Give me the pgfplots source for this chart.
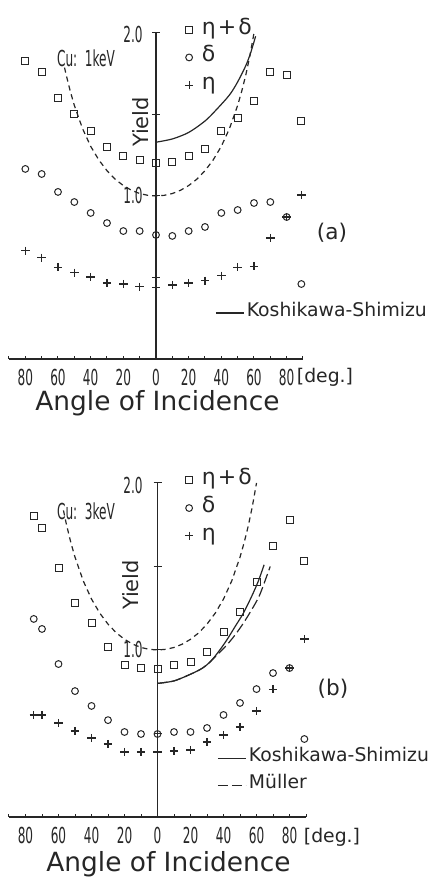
\documentclass[border=0pt]{standalone}
\usepackage{graphicx}
\usepackage{fontspec}
\setmainfont{DejaVu Sans}
\usepackage{pgfplots}
\pgfplotsset{compat=1.18}

% narrow digits and short labels, as on the plotter lettering
\newcommand{\nar}[1]{\scalebox{0.55}[1]{#1}}
\newcommand{\numfont}{\fontsize{11}{13}\selectfont}
\colorlet{ink}{black!85}

\pgfplotsset{
  panel/.style={
    scale only axis, xmin=-90, xmax=90, ymin=0, ymax=2,
    axis x line=bottom, axis y line=none, clip=false,
    x axis line style={-, line width=0.6pt, ink},
    xtick={-80,-60,...,80}, minor xtick={-90,-70,...,90},
    xticklabels={\nar{80},\nar{60},\nar{40},\nar{20},\nar{0},\nar{20},\nar{40},\nar{60},\nar{80}},
    tick align=inside, major tick length=1.6pt, minor tick length=1.6pt,
    every tick/.style={ink, line width=0.5pt},
    xticklabel style={font=\numfont, text=ink, yshift=-1.5pt},
    legend style={draw=none, fill=none, inner sep=0pt, font=\fontsize{11}{13}\selectfont,
      text=ink, row sep=0pt, cells={anchor=west},
      nodes={inner sep=0.8pt, text height=8.4pt, text depth=3.85pt},
      /tikz/every odd column/.append style={column sep=3.5pt}},
    legend image code/.code={\draw[#1] plot coordinates {(0pt,0pt)};},
  },
  keys/.style={
    scale only axis, xmin=-90, xmax=90, ymin=0, ymax=2, hide axis,
    legend style={draw=none, fill=none, inner sep=0pt, font=\fontsize{9.4}{11}\selectfont,
      text=ink, row sep=0pt, cells={anchor=west},
      nodes={inner sep=1.2pt, text height=7pt, text depth=4pt}},
    legend image code/.code={\draw[#1] (0pt,0pt) -- (14pt,0pt);},
  },
  sum/.style={only marks, mark=square, mark size=1.75pt, mark options={ink, line width=0.5pt}},
  sec/.style={only marks, mark=o, mark size=1.7pt, mark options={ink, line width=0.5pt}},
  back/.style={only marks, mark=+, mark size=2.1pt, mark options={ink, line width=0.55pt}},
  cosine/.style={ink, line width=0.6pt, dash pattern=on 2.6pt off 2pt},
  ks/.style={ink, line width=0.6pt},
  mu/.style={ink, line width=0.6pt, dash pattern=on 5pt off 2pt},
}

\begin{document}
\begin{tikzpicture}[x=0.5pt, y=0.5pt]
\path[use as bounding box] (0,0) rectangle (439,878);

% ---------------- (a) Cu, 1 keV ----------------
\begin{axis}[panel, at={(4.5pt,259.5pt)}, anchor=south west, width=147pt, height=163pt,
  legend style={at={(0.597,0.925)}, anchor=west}]
\addplot[sum] coordinates {
 (-80,1.83) (-70,1.76) (-60,1.60) (-50,1.50) (-40,1.40) (-30,1.30) (-20,1.245) (-10,1.22)
 (0,1.20) (10,1.21) (20,1.245) (30,1.29) (40,1.40) (50,1.48) (60,1.58) (70,1.76) (80,1.74) (89,1.46)};
\addlegendentry{η\kern1pt+\kern1ptδ}
\addplot[sec] coordinates {
 (-80,1.166) (-70,1.135) (-60,1.025) (-50,0.963) (-40,0.896) (-30,0.834) (-20,0.785) (-10,0.785)
 (0,0.761) (10,0.755) (20,0.785) (30,0.81) (40,0.896) (50,0.914) (60,0.957) (70,0.963) (80,0.871) (89,0.46)};
\addlegendentry{δ}
\addplot[back] coordinates {
 (-80,0.663) (-70,0.62) (-60,0.564) (-50,0.528) (-40,0.503) (-30,0.466) (-20,0.46) (-10,0.442)
 (0,0.436) (10,0.454) (20,0.466) (30,0.48) (40,0.51) (50,0.564) (60,0.57) (70,0.742) (80,0.871) (89,1.006)};
\addlegendentry{η}
% 1/cos law
\addplot[cosine, forget plot] coordinates {
 (-56,1.788) (-55,1.743) (-52.5,1.643) (-50,1.556) (-45,1.414) (-40,1.305) (-35,1.221) (-30,1.155)
 (-25,1.103) (-20,1.064) (-15,1.035) (-10,1.015) (-5,1.004) (0,1.000) (5,1.004) (10,1.015)
 (15,1.035) (20,1.064) (25,1.103) (30,1.155) (35,1.221) (40,1.305) (45,1.414) (50,1.556)
 (52.5,1.643) (55,1.743) (57.5,1.861) (60,2.000)};
% Koshikawa-Shimizu
\addplot[ks, smooth, forget plot] coordinates {
 (0,1.33) (10,1.35) (20,1.39) (30,1.46) (37,1.53) (45,1.62) (50,1.70) (55,1.80) (58,1.88) (61,1.98)};
% vertical axis
\draw[ink, line width=0.6pt] (axis cs:0,0) -- (axis cs:0,2);
\draw[ink, line width=0.5pt] ([xshift=-2pt]axis cs:0,0.5) -- ([xshift=2pt]axis cs:0,0.5);
\draw[ink, line width=0.5pt] ([xshift=-2pt]axis cs:0,1) -- ([xshift=2pt]axis cs:0,1);
\draw[ink, line width=0.5pt] ([xshift=-2pt]axis cs:0,1.5) -- ([xshift=2pt]axis cs:0,1.5);
\draw[ink, line width=0.5pt] ([xshift=-2pt]axis cs:0,2) -- ([xshift=2pt]axis cs:0,2);
\end{axis}
\begin{axis}[keys, at={(4.5pt,259.5pt)}, anchor=south west, width=147pt, height=163pt,
  legend style={at={(0.70,0.141)}, anchor=west}]
\addlegendimage{ks}
\addlegendentry{Koshikawa-Shimizu}
\end{axis}

\node[font=\numfont, text=ink] at (86,820) {\nar{Cu:\ \ 1keV}};
\node[font=\fontsize{10.5}{12}\selectfont, text=ink, rotate=90] at (141,756) {Yield};
\node[font=\numfont, text=ink] at (133,843) {\nar{2.0}};
\node[font=\numfont, text=ink] at (133,683) {\nar{1.0}};
\node[font=\fontsize{10.8}{13}\selectfont, text=ink] at (332,645) {(a)};
\node[font=\fontsize{9.4}{11}\selectfont, text=ink] at (325,501) {[deg.]};
\node[font=\fontsize{13.2}{15}\selectfont, text=ink] at (157.5,475) {Angle of Incidence};

% ---------------- (b) Cu, 3 keV ----------------
\begin{axis}[panel, at={(4.5pt,30.5pt)}, anchor=south west, width=148.5pt, height=167pt,
  legend style={at={(0.591,0.925)}, anchor=west}]
\addplot[sum] coordinates {
 (-75,1.80) (-70,1.73) (-60,1.49) (-50,1.28) (-40,1.16) (-30,1.02) (-20,0.91) (-10,0.89)
 (0,0.886) (10,0.91) (20,0.93) (30,0.99) (40,1.11) (50,1.23) (60,1.41) (70,1.62) (80,1.78) (89,1.53)};
\addlegendentry{η\kern1pt+\kern1ptδ}
\addplot[sec] coordinates {
 (-75,1.186) (-70,1.126) (-60,0.916) (-50,0.754) (-40,0.665) (-30,0.58) (-20,0.509) (-10,0.497)
 (0,0.497) (10,0.509) (20,0.509) (30,0.533) (40,0.611) (50,0.683) (60,0.766) (70,0.862) (80,0.892) (89,0.467)};
\addlegendentry{δ}
\addplot[back] coordinates {
 (-75,0.611) (-70,0.611) (-60,0.563) (-50,0.515) (-40,0.473) (-30,0.437) (-20,0.389) (-10,0.389)
 (0,0.389) (10,0.395) (20,0.401) (30,0.449) (40,0.491) (50,0.539) (60,0.635) (70,0.766) (80,0.892) (89,1.066)};
\addlegendentry{η}
\addplot[cosine, forget plot] coordinates {
 (-57,1.836) (-55,1.743) (-52.5,1.643) (-50,1.556) (-45,1.414) (-40,1.305) (-35,1.221) (-30,1.155)
 (-25,1.103) (-20,1.064) (-15,1.035) (-10,1.015) (-5,1.004) (0,1.000) (5,1.004) (10,1.015)
 (15,1.035) (20,1.064) (25,1.103) (30,1.155) (35,1.221) (40,1.305) (45,1.414) (50,1.556)
 (52.5,1.643) (55,1.743) (57.5,1.861) (60,2.000)};
\addplot[ks, smooth, forget plot] coordinates {
 (0,0.80) (10,0.815) (20,0.855) (27,0.89) (32,0.93) (37,0.99) (42,1.06) (47,1.14) (52,1.22)
 (57,1.32) (61,1.41) (64.6,1.51)};
\addplot[mu, smooth, forget plot] coordinates {
 (0,0.80) (10,0.815) (20,0.855) (27,0.89) (32,0.93) (37,0.98) (42,1.03) (47,1.09) (52,1.16)
 (57,1.24) (61.5,1.32) (65,1.41) (68.3,1.50)};
\draw[ink, line width=0.6pt] (axis cs:0,0) -- (axis cs:0,2);
\draw[ink, line width=0.5pt] ([xshift=-2pt]axis cs:0,0.5) -- ([xshift=2pt]axis cs:0,0.5);
\draw[ink, line width=0.5pt] ([xshift=-2pt]axis cs:0,1) -- ([xshift=2pt]axis cs:0,1);
\draw[ink, line width=0.5pt] ([xshift=-2pt]axis cs:0,1.5) -- ([xshift=2pt]axis cs:0,1.5);
\draw[ink, line width=0.5pt] ([xshift=-2pt]axis cs:0,2) -- ([xshift=2pt]axis cs:0,2);
\end{axis}
\begin{axis}[keys, at={(4.5pt,30.5pt)}, anchor=south west, width=148.5pt, height=167pt,
  legend style={at={(0.70,0.135)}, anchor=west}]
\addlegendimage{ks}
\addlegendentry{Koshikawa-Shimizu}
\addlegendimage{mu}
\addlegendentry{Müller}
\end{axis}

\node[font=\numfont, text=ink] at (86,367) {\nar{Cu:\ \ 3keV}};
\node[font=\fontsize{10.5}{12}\selectfont, text=ink, rotate=90] at (131,293) {Yield};
\node[font=\numfont, text=ink] at (133,393) {\nar{2.0}};
\node[font=\numfont, text=ink] at (133,229) {\nar{1.0}};
\node[font=\fontsize{10.8}{13}\selectfont, text=ink] at (333,189) {(b)};
\node[font=\fontsize{9.4}{11}\selectfont, text=ink] at (332,41) {[deg.]};
\node[font=\fontsize{13.2}{15}\selectfont, text=ink, inner sep=0pt] at (168.5,14) {Angle of Incidence};
\end{tikzpicture}
\end{document}
